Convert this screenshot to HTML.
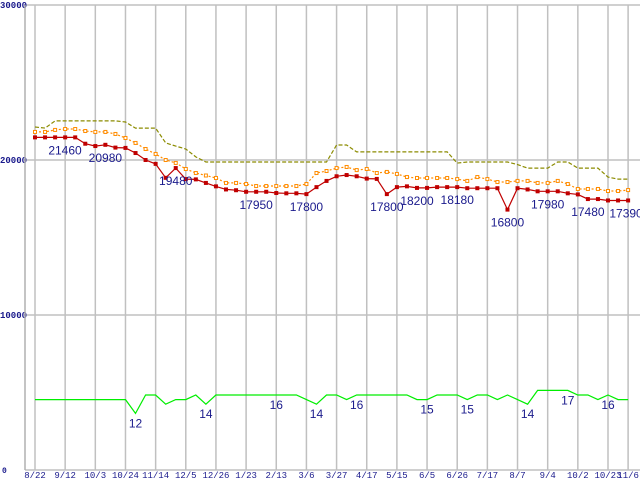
<!DOCTYPE html>
<html><head><meta charset="utf-8"><style>
html,body{margin:0;padding:0;background:#fff;}
svg{display:block;}
</style></head><body>
<svg id="chart" width="640" height="480" xmlns="http://www.w3.org/2000/svg"></svg>
<script>
const xLabels=["8/22","9/12","10/3","10/24","11/14","12/5","12/26","1/23","2/13","3/6","3/27","4/17","5/15","6/5","6/26","7/17","8/7","9/4","10/2","10/23","11/6"];
const yTicks=[0,10000,20000,30000];
const redVals=[21460,21460,21460,21460,21460,21050,20900,20980,20800,20780,20450,20000,19750,18850,19480,18770,18750,18520,18300,18100,18050,17950,17950,17950,17870,17850,17850,17800,18250,18650,18950,19030,18950,18800,18780,17800,18250,18300,18200,18200,18250,18250,18250,18180,18180,18180,18180,16800,18180,18100,17980,17980,17980,17850,17780,17480,17480,17390,17390,17390];
const orangeVals=[21810,21810,21940,22000,22000,21870,21810,21810,21680,21420,21100,20710,20390,20000,19810,19420,19160,19000,18840,18520,18520,18450,18320,18320,18320,18320,18320,18450,19160,19290,19480,19550,19350,19420,19160,19230,19100,18900,18840,18840,18840,18840,18770,18650,18900,18770,18580,18580,18650,18650,18520,18520,18650,18450,18130,18130,18130,18000,18000,18060];
const oliveVals=[22130,22060,22520,22520,22520,22520,22520,22520,22520,22450,22060,22060,22060,21100,20900,20710,20200,19870,19870,19870,19870,19870,19870,19870,19870,19870,19870,19870,19870,19870,20970,20970,20520,20520,20520,20520,20520,20520,20520,20520,20520,20520,19800,19870,19870,19870,19870,19870,19700,19480,19480,19480,19870,19870,19480,19480,19480,18900,18770,18770];
const greenVals=[15,15,15,15,15,15,15,15,15,15,12,16,16,14,15,15,16,14,16,16,16,16,16,16,16,16,16,15,14,16,16,15,16,16,16,16,16,16,15,15,16,16,16,15,16,16,15,16,15,14,17,17,17,17,16,16,15,16,15,15];
const redLabels=[[0,21460,30],[7,20980,0],[14,19480,0],[22,17950,0],[27,17800,0],[35,17800,0],[38,18200,0],[42,18180,0],[47,16800,0],[51,17980,0],[55,17480,0],[58,17390,8]];
const greenLabels=[[10,12],[17,14],[24,16],[28,14],[32,16],[39,15],[43,15],[49,14],[53,17],[57,16]];

const NS="http://www.w3.org/2000/svg";
const svg=document.getElementById('chart');
const X=i=>35+i*(573/57);
const Y=v=>470-v*0.0155;
const GY=v=>395-(v-16)*4.6;
function el(tag,attrs,parent){const e=document.createElementNS(NS,tag);for(const k in attrs)e.setAttribute(k,attrs[k]);(parent||svg).appendChild(e);return e;}
const NAVY="#1a1a8c";
yTicks.forEach(v=>{
  const l=el('line',{x1:25,x2:640,y1:Y(v),y2:Y(v),stroke:'#c0c0c0','stroke-width':1.5});
  
  
  const t=el('text',{x:v===0?2:0,y:Y(v)+3,'font-family':'Liberation Mono, monospace','font-size':v===0?8:9,'font-weight':'bold',fill:NAVY});
  t.textContent=String(v);
  
  
});
const gridIdx=[];for(let k=0;k<20;k++)gridIdx.push(k*3);gridIdx.push(59);
gridIdx.forEach((gi,k)=>{
  const l=el('line',{x1:X(gi),x2:X(gi),y1:5,y2:470,stroke:'#c0c0c0','stroke-width':1.5});
  
  
  const t=el('text',{x:X(gi),y:478,'text-anchor':'middle','font-family':'Liberation Mono, monospace','font-size':9,fill:NAVY});
  t.textContent=xLabels[k];
  
  
});
const ax=el('line',{x1:25,x2:25,y1:5,y2:470,stroke:'#b0b0b0','stroke-width':1.5});


function pts(vals,f){return vals.map((v,i)=>X(i).toFixed(1)+','+f(v).toFixed(1)).join(' ');}
const ol=el('polyline',{points:pts(oliveVals,Y),fill:'none',stroke:'#8c8c00','stroke-width':1.2,'stroke-dasharray':'4,2'});


const orl=el('polyline',{points:pts(orangeVals,Y),fill:'none',stroke:'#ff8c00','stroke-width':1.2,'stroke-dasharray':'2,2'});


orangeVals.forEach((v,i)=>{
  const r=el('rect',{x:X(i)-1.5,y:Y(v)-1.5,width:3,height:3,fill:'#fff',stroke:'#ff8c00','stroke-width':1});
  
  
});
const rl=el('polyline',{points:pts(redVals,Y),fill:'none',stroke:'#c00000','stroke-width':1.2});


redVals.forEach((v,i)=>{
  const r=el('rect',{x:X(i)-2,y:Y(v)-2,width:4,height:4,fill:'#c00000'});
  
  
});
const gl=el('polyline',{points:pts(greenVals,GY),fill:'none',stroke:'#00ee00','stroke-width':1.2});


redLabels.forEach(([i,v,dx])=>{
  const t=el('text',{x:X(i)+dx,y:Y(redVals[i])+17,'text-anchor':'middle','font-family':'Liberation Sans, sans-serif','font-size':12,fill:NAVY});
  t.textContent=String(v);
  
  
});
greenLabels.forEach(([i,v])=>{
  const t=el('text',{x:X(i),y:GY(greenVals[i])+14,'text-anchor':'middle','font-family':'Liberation Sans, sans-serif','font-size':12,fill:NAVY});
  t.textContent=String(v);
  
  
});
</script>
</body></html>
